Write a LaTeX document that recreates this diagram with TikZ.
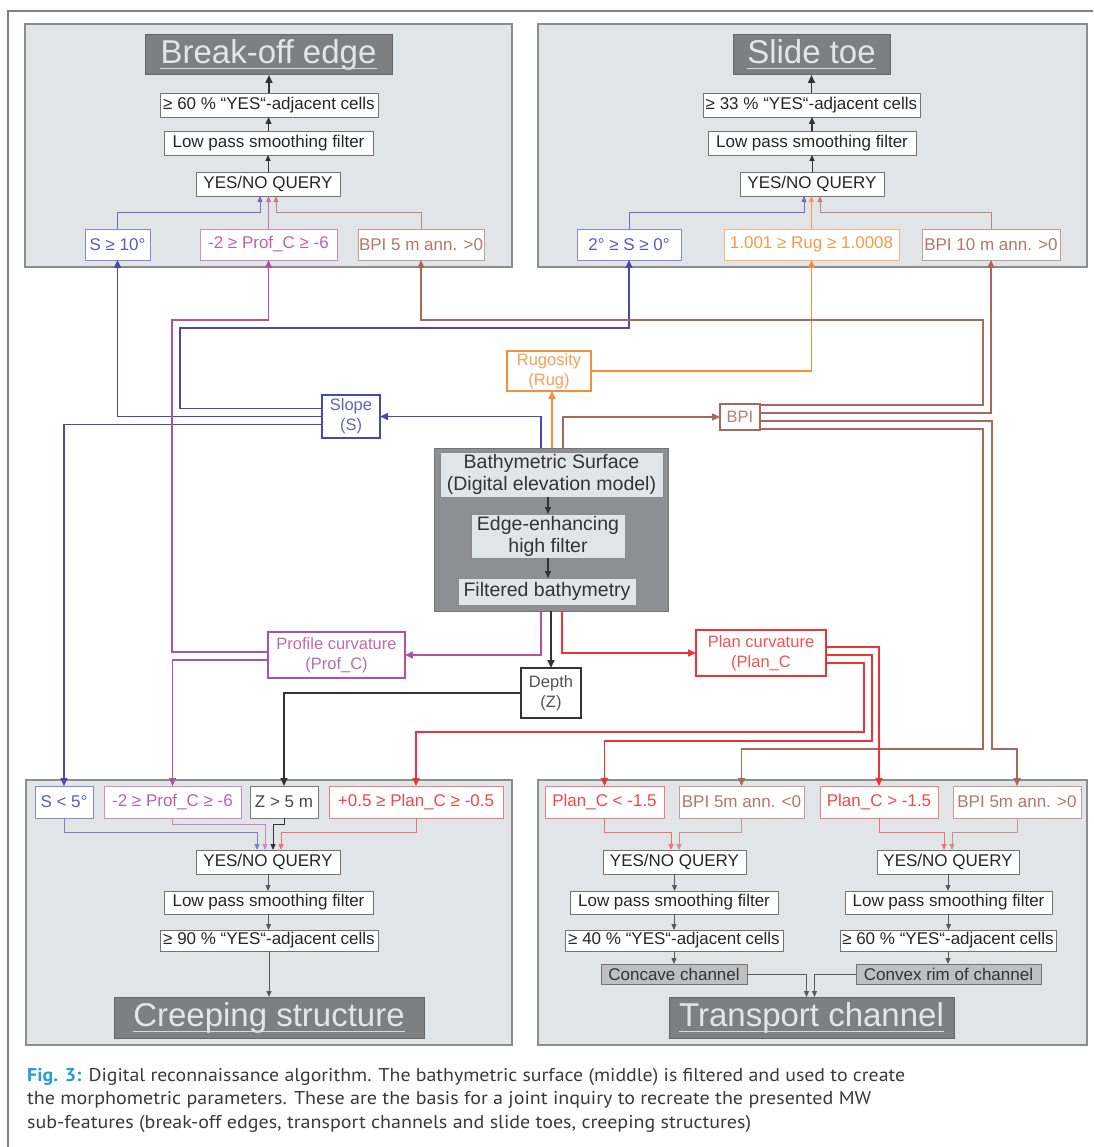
\documentclass[tikz,border=0pt]{standalone}
\usepackage{fontspec}
\setmainfont{Liberation Sans}
\newfontfamily\capfont{PT Sans}
\usepackage{graphicx}
\usetikzlibrary{arrows.meta}
\definecolor{panelbg}{HTML}{E2E5E7}
\definecolor{panelbd}{HTML}{8C8C8C}
\definecolor{titlebg}{HTML}{7E7F81}
\definecolor{centerbg}{HTML}{8D8F92}
\definecolor{cblue}{HTML}{4848B0}
\definecolor{cmag}{HTML}{B44FA6}
\definecolor{cbrown}{HTML}{A8695A}
\definecolor{corange}{HTML}{F58F3A}
\definecolor{cred}{HTML}{EE3338}
\definecolor{cdark}{HTML}{333333}
\definecolor{capblue}{HTML}{1E9FDB}
\definecolor{captext}{HTML}{3A3A3A}
\newcommand\boxat[7]{\node[#1, minimum width={(#5)-(#3)}, minimum height={(#6)-(#4)}] (#2) at ({((#3)+(#5))/2},{((#4)+(#6))/2}) {#7};}
\newsavebox\capbox
\newcommand\capline[2]{\sbox\capbox{#2}\edef\capw{\the\wd\capbox}\pgfmathsetmacro\capr{#1/\capw}\scalebox{\capr}[1]{\usebox\capbox}}
\tikzset{
  panel/.style={draw=panelbd, fill=panelbg, line width=1.2pt, inner sep=0, outer sep=0},
  titlebox/.style={draw=black!60, fill=titlebg, line width=1pt, inner sep=0, outer sep=0},
  titletext/.style={inner sep=0, text=white!90!black, font=\fontsize{33}{36}\selectfont},
  ul/.style={draw=white!85!black, line width=1pt},
  flowbox/.style={draw=black!55, fill=white, line width=0.9pt, inner sep=0, outer sep=0, text=black!85, font=\fontsize{17}{19}\selectfont},
  chanbox/.style={draw=black!55, fill=black!25, line width=0.9pt, inner sep=0, outer sep=0, text=black!80, font=\fontsize{17}{19}\selectfont},
  cond/.style={fill=white, line width=0.9pt, inner sep=0, outer sep=0, draw=#1!65, text=#1!90, font=\fontsize{17}{19}\selectfont},
  param/.style={fill=white, line width=1.4pt, inner sep=0, outer sep=0, draw=#1, text=#1!85, align=center, font=\fontsize{16.5}{20}\selectfont},
  innerbox/.style={draw=black!45, fill=panelbg, line width=0.8pt, inner sep=0, outer sep=0, align=center, text=black!80, font=\fontsize{19.5}{22}\selectfont},
  mainarrow/.style={line width=1.5pt, -{Triangle[length=8pt,width=7pt]}},
  subarrow/.style={line width=0.9pt, -{Triangle[length=6pt,width=5pt]}},
  midarrow/.style={line width=1.3pt, -{Triangle[length=7pt,width=6pt]}},
}
\begin{document}
\begin{tikzpicture}[x=1pt,y=-1pt]
\useasboundingbox (0,0) rectangle (1093,1147);
\fill[white] (0,0) rectangle (1093,1147);
\draw[black!50, line width=1.2pt] (1093,11) -- (8,11) -- (8,1147);
% panels
\boxat{panel}{p1}{25}{24}{512}{267}{}
\boxat{panel}{p2}{538}{24}{1087}{267}{}
\boxat{panel}{p3}{26}{780}{512}{1045}{}
\boxat{panel}{p4}{538}{780}{1087}{1045}{}
% ---- Break-off edge panel
\boxat{titlebox}{t1}{145}{35}{392}{75}{}
\node[titletext, anchor=base] (t1t) at (268.5,64) {Break-off edge};
\draw[ul] ([yshift=-5pt]t1t.base west) -- ([yshift=-5pt]t1t.base east);
\boxat{flowbox}{pc1}{160}{93}{378}{117}{≥ 60 \% “YES“-adjacent cells}
\boxat{flowbox}{lp1}{164}{131}{373}{155}{Low pass smoothing filter}
\boxat{flowbox}{q1}{196}{172}{340}{196}{YES/NO QUERY}
\boxat{cond=cblue}{bo1}{85}{229}{150}{260}{S ≥ 10°}
\boxat{cond=cmag}{bo2}{200}{229}{337}{260}{-2 ≥ Prof\_C ≥ -6}
\boxat{cond=cbrown}{bo3}{358}{229}{484}{260}{BPI 5 m ann. >0}
% ---- Slide toe panel
\boxat{titlebox}{t2}{733}{35}{890}{75}{}
\node[titletext, anchor=base] (t2t) at (811.5,64) {Slide toe};
\draw[ul] ([yshift=-5pt]t2t.base west) -- ([yshift=-5pt]t2t.base east);
\boxat{flowbox}{pc2}{703}{93}{920}{117}{≥ 33 \% “YES“-adjacent cells}
\boxat{flowbox}{lp2}{708}{131}{916}{155}{Low pass smoothing filter}
\boxat{flowbox}{q2}{740}{172}{884}{196}{YES/NO QUERY}
\boxat{cond=cblue}{st1}{577}{229}{681}{260}{2° ≥ S ≥ 0°}
\boxat{cond=corange}{st2}{724}{229}{899}{260}{1.001 ≥ Rug ≥ 1.0008}
\boxat{cond=cbrown}{st3}{922}{229}{1060}{260}{BPI 10 m ann. >0}
% ---- Creeping structure panel
\boxat{cond=cblue}{cr1}{35}{786}{93}{818}{S < 5°}
\boxat{cond=cmag}{cr2}{104}{786}{241}{818}{-2 ≥ Prof\_C ≥ -6}
\boxat{cond=cdark}{cr3}{250}{786}{318}{818}{Z > 5 m}
\boxat{cond=cred}{cr4}{329}{786}{503}{818}{+0.5 ≥ Plan\_C ≥ -0.5}
\boxat{flowbox}{q3}{196}{850}{340}{874}{YES/NO QUERY}
\boxat{flowbox}{lp3}{164}{891}{373}{914}{Low pass smoothing filter}
\boxat{flowbox}{pc3}{160}{930}{378}{951}{≥ 90 \% “YES“-adjacent cells}
\boxat{titlebox}{t3}{114}{997}{424}{1038}{}
\node[titletext, anchor=base] (t3t) at (269,1026) {Creeping structure};
\draw[ul] ([yshift=-5pt]t3t.base west) -- ([yshift=-5pt]t3t.base east);
% ---- Transport channel panel
\boxat{cond=cred}{tc1}{545}{786}{664}{818}{Plan\_C < -1.5}
\boxat{cond=cbrown}{tc2}{679}{786}{804}{818}{BPI 5m ann. <0}
\boxat{cond=cred}{tc3}{820}{786}{938}{818}{Plan\_C > -1.5}
\boxat{cond=cbrown}{tc4}{953}{786}{1081}{818}{BPI 5m ann. >0}
\boxat{flowbox}{q4}{603}{850}{746}{874}{YES/NO QUERY}
\boxat{flowbox}{lp4}{570}{891}{778}{914}{Low pass smoothing filter}
\boxat{flowbox}{pc4}{565}{930}{783}{951}{≥ 40 \% “YES“-adjacent cells}
\boxat{chanbox}{cc}{601}{964}{747}{984}{Concave channel}
\boxat{flowbox}{q5}{877}{850}{1019}{874}{YES/NO QUERY}
\boxat{flowbox}{lp5}{845}{891}{1052}{914}{Low pass smoothing filter}
\boxat{flowbox}{pc5}{840}{930}{1056}{951}{≥ 60 \% “YES“-adjacent cells}
\boxat{chanbox}{cv}{856}{964}{1041}{984}{Convex rim of channel}
\boxat{titlebox}{t4}{669}{997}{954}{1038}{}
\node[titletext, anchor=base] (t4t) at (811.5,1026) {Transport channel};
\draw[ul] ([yshift=-5pt]t4t.base west) -- ([yshift=-5pt]t4t.base east);
% ---- centre
\boxat{draw=black!55, fill=centerbg, line width=1pt, inner sep=0}{cbox}{434}{448}{668}{611}{}
\boxat{innerbox}{bs}{440}{452}{663}{497}{Bathymetric Surface\\(Digital elevation model)}
\boxat{innerbox}{eh}{471}{514}{625}{558}{Edge-enhancing\\high filter}
\boxat{innerbox}{fb}{458}{578}{636}{605}{Filtered bathymetry}
\draw[midarrow, cdark] (bs.south -| eh.north) -- (eh.north);
\draw[midarrow, cdark] (eh.south) -- (eh.south |- fb.north);
\coordinate (cN1) at (541,448);
\coordinate (cN2) at (552,448);
\coordinate (cN3) at (563,448);
\coordinate (cS1) at (541,611);
\coordinate (cS2) at (551,611);
\coordinate (cS3) at (562,611);
% parameter nodes
\boxat{param=cblue}{slope}{322}{395}{380}{438}{Slope\\(S)}
\boxat{param=corange}{rug}{507}{351}{591}{391}{Rugosity\\(Rug)}
\boxat{param=cbrown}{bpi}{720}{404}{760}{430}{BPI}
\boxat{param=cmag}{prof}{268}{632}{405}{678}{Profile curvature\\(Prof\_C)}
\boxat{param=cdark}{depth}{521}{668}{581}{718}{Depth\\(Z)}
\boxat{param=cred}{plan}{696}{630}{826}{676}{Plan curvature\\(Plan\_C}
% ---- main connectors
\draw[mainarrow, cblue] (cN1) |- (slope.east);
\draw[mainarrow, corange] (cN2) -- (cN2 |- rug.south);
\draw[mainarrow, cbrown] (cN3) |- (bpi.west);
\draw[mainarrow, cmag] (cS1) |- (prof.east);
\draw[mainarrow, cdark, line width=2.2pt] (cS2) -- (cS2 |- depth.north);
\draw[mainarrow, cred] (cS3) |- (plan.west);
% slope
\draw[mainarrow, cblue] ([yshift=8pt]slope.west) -| (180,328) -| (st1.south);
\draw[mainarrow, cblue] (slope.west) -| (bo1.south);
\draw[mainarrow, cblue] ([yshift=-8pt]slope.west) -| (cr1.north);
% rugosity
\draw[mainarrow, corange] (rug.east) -| (st2.south);
% bpi
\draw[mainarrow, cbrown] ([yshift=12pt]bpi.east) -| (983,320) -| (bo3.south);
\draw[mainarrow, cbrown] ([yshift=4pt]bpi.east) -| (st3.south);
\draw[mainarrow, cbrown] ([yshift=-4pt]bpi.east) -| (992,749) -| (tc4.north);
\draw[mainarrow, cbrown] ([yshift=-12pt]bpi.east) -| (983,749) -| (tc2.north);
% profile curvature
\draw[mainarrow, cmag] ([yshift=3pt]prof.west) -| (172,320) -| (bo2.south);
\draw[mainarrow, cmag] ([yshift=-5pt]prof.west) -| (cr2.north);
% depth
\draw[mainarrow, cdark] (depth.west) -| (cr3.north);
% plan curvature
\draw[mainarrow, cred] ([yshift=6pt]plan.east) -| (tc3.north);
\draw[mainarrow, cred] ([yshift=-2pt]plan.east) -| (872,741) -| (tc1.north);
\draw[mainarrow, cred] ([yshift=-10pt]plan.east) -| (864,732) -| (cr4.north);
% ---- panel internals: break-off edge
\draw[subarrow, cblue!80] (bo1.north) |- (260,212) -- ([xshift=-8pt]q1.south);
\draw[subarrow, cmag!80] (bo2.north) -- (bo2.north |- q1.south);
\draw[subarrow, cbrown!80] (bo3.north) |- (276,212) -- ([xshift=8pt]q1.south);
\draw[subarrow, cdark] (q1.north) -- (q1.north |- lp1.south);
\draw[midarrow, cdark] (lp1.north) -- (lp1.north |- pc1.south);
\draw[mainarrow, cdark] (pc1.north) -- (pc1.north |- t1.south);
% slide toe
\draw[subarrow, cblue!80] (st1.north) |- (804,212) -- ([xshift=-8pt]q2.south);
\draw[subarrow, corange!90] (st2.north) -- (st2.north |- q2.south);
\draw[subarrow, cbrown!80] (st3.north) |- (820,212) -- ([xshift=8pt]q2.south);
\draw[subarrow, cdark] (q2.north) -- (q2.north |- lp2.south);
\draw[midarrow, cdark] (lp2.north) -- (lp2.north |- pc2.south);
\draw[mainarrow, cdark] (pc2.north) -- (pc2.north |- t2.south);
% creeping structure
\draw[subarrow, cblue!70] (cr1.south) |- (257,832) -- ([xshift=-11pt]q3.north);
\draw[subarrow, cmag!70] (cr2.south) |- (265,824) -- ([xshift=-3pt]q3.north);
\draw[subarrow, cdark] (cr3.south) |- (273,824) -- ([xshift=5pt]q3.north);
\draw[subarrow, cred!70] (cr4.south) |- (281,832) -- ([xshift=13pt]q3.north);
\draw[subarrow, black!65] (q3.south) -- (q3.south |- lp3.north);
\draw[subarrow, black!65] (lp3.south) -- (lp3.south |- pc3.north);
\draw[subarrow, black!65] (pc3.south) -- (pc3.south |- t3.north);
% transport channel
\draw[subarrow, cred!70] (tc1.south) |- (671,832) -- ([xshift=-3.5pt]q4.north);
\draw[subarrow, cbrown!70] (tc2.south) |- (679,832) -- ([xshift=4.5pt]q4.north);
\draw[subarrow, cred!70] (tc3.south) |- (944,832) -- ([xshift=-4pt]q5.north);
\draw[subarrow, cbrown!70] (tc4.south) |- (952,832) -- ([xshift=4pt]q5.north);
\draw[subarrow, black!65] (q4.south) -- (q4.south |- lp4.north);
\draw[subarrow, black!65] (lp4.south) -- (lp4.south |- pc4.north);
\draw[subarrow, black!65] (pc4.south) -- (pc4.south |- cc.north);
\draw[subarrow, black!65] (q5.south) -- (q5.south |- lp5.north);
\draw[subarrow, black!65] (lp5.south) -- (lp5.south |- pc5.north);
\draw[subarrow, black!65] (pc5.south) -- (pc5.south |- cv.north);
\draw[subarrow, black!65] (cc.east) -| ([xshift=-5pt]t4.north);
\draw[subarrow, black!65] (cv.west) -| ([xshift=3pt]t4.north);
% ---- caption
\tikzset{captionline/.style={anchor=base west, inner sep=0, text=captext, font=\capfont\fontsize{18.5}{21}\selectfont}}
\node[captionline] (cap1) at (27,1081) {\capline{878}{\textcolor{capblue}{\bfseries Fig. 3:} Digital reconnaissance algorithm. The bathymetric surface (middle) is filtered and used to create}};
\node[captionline] (cap2) at (27,1104.5) {\capline{844}{the morphometric parameters. These are the basis for a joint inquiry to recreate the presented MW}};
\node[captionline] (cap3) at (27,1128) {\capline{724}{sub-features (break-off edges, transport channels and slide toes, creeping structures)}};
\end{tikzpicture}
\end{document}
